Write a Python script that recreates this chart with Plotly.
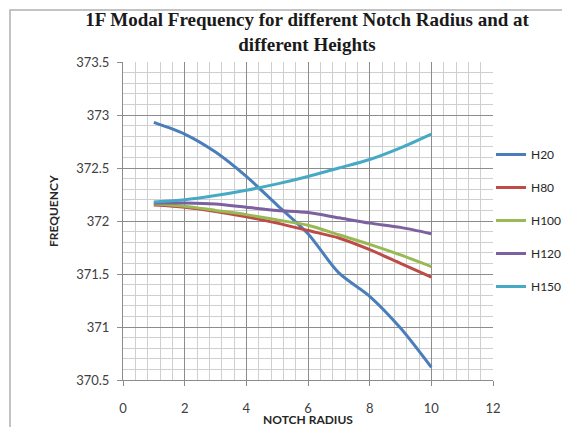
import plotly.graph_objects as go

# Data
notch_radius = [1, 2, 3, 4, 5, 6, 7, 8, 9, 10]
h20 = [372.93, 372.82, 372.65, 372.42, 372.15, 371.88, 371.51, 371.29, 370.99, 370.62]
h80 = [372.15, 372.13, 372.09, 372.04, 371.98, 371.91, 371.84, 371.73, 371.60, 371.47]
h100 = [372.16, 372.14, 372.10, 372.06, 372.01, 371.96, 371.87, 371.78, 371.68, 371.57]
h120 = [372.17, 372.17, 372.16, 372.13, 372.10, 372.08, 372.03, 371.98, 371.94, 371.88]
h150 = [372.18, 372.20, 372.24, 372.29, 372.35, 372.42, 372.50, 372.58, 372.69, 372.82]

series_names = ["H20", "H80", "H100", "H120", "H150"]
series_values = [h20, h80, h100, h120, h150]
series_colors = ["#4A7EBB", "#BE4B48", "#98B954", "#7D60A0", "#46AAC5"]

# The page body has an 8px margin, so the figure is drawn 8px in from the window corner.
OFF = 8
W, H = 570 - OFF, 427 - OFF
L, R, T, B = 115, 77, 54, 47
plot_w = W - L - R
plot_h = H - T - B


def px_to_paper_x(px):
    # px given in screenshot coordinates
    return (px - OFF - L) / plot_w


def px_to_paper_y(py):
    return (H - B - (py - OFF)) / plot_h


fig = go.Figure()
for name, vals, color in zip(series_names, series_values, series_colors):
    fig.add_trace(go.Scatter(
        x=notch_radius, y=vals, mode="lines", name=name, legendgroup=name,
        line=dict(color=color, width=3, shape="spline", smoothing=0.8),
    ))

tick_font = dict(family="Lato, Open Sans, sans-serif", size=13, color="#404040")

fig.update_layout(
    width=W, height=H,
    margin=dict(l=L, r=R, t=T, b=B, autoexpand=False),
    paper_bgcolor="white", plot_bgcolor="white",
    title=dict(
        text="<b>1F Modal Frequency for different Notch Radius and at<br>different Heights</b>",
        font=dict(family="Liberation Serif, Times New Roman, serif", size=19, color="#1a1a1a"),
        x=(307 - OFF) / W, xanchor="center", xref="container",
        y=1 - 18 / H, yanchor="top", yref="container",
    ),
    xaxis=dict(
        range=[0, 12], tick0=0, dtick=2,
        showgrid=True, gridcolor="#8c8c8c", gridwidth=1,
        minor=dict(dtick=0.4, tick0=0, showgrid=True, gridcolor="#cfcfcf", gridwidth=1),
        ticks="outside", ticklen=5, tickcolor="#8c8c8c",
        showline=True, linecolor="#8c8c8c", linewidth=1, mirror=False,
        zeroline=False, tickfont=tick_font, ticklabelstandoff=11,
    ),
    yaxis=dict(
        range=[370.5, 373.5], tick0=370.5, dtick=0.5,
        showgrid=True, gridcolor="#8c8c8c", gridwidth=1,
        minor=dict(dtick=0.1, showgrid=True, gridcolor="#cfcfcf", gridwidth=1),
        ticks="outside", ticklen=5, tickcolor="#8c8c8c",
        showline=True, linecolor="#8c8c8c", linewidth=1,
        zeroline=False, tickfont=tick_font, ticklabelstandoff=5,
    ),
    legend=dict(
        x=px_to_paper_x(491), xanchor="left",
        y=px_to_paper_y(140), yanchor="top",
        font=dict(family="Lato, Open Sans, sans-serif", size=12, color="#262626"),
        bgcolor="rgba(0,0,0,0)", tracegroupgap=14,
    ),
    showlegend=True,
)

# Axis titles
fig.add_annotation(
    text="<b>NOTCH RADIUS</b>", xref="paper", yref="paper",
    x=px_to_paper_x(308), y=px_to_paper_y(419), xanchor="center", yanchor="middle",
    showarrow=False, font=dict(family="Lato, Open Sans, sans-serif", size=12, color="#262626"),
)
fig.add_annotation(
    text="<b>FREQUENCY</b>", xref="paper", yref="paper", textangle=-90,
    x=px_to_paper_x(53), y=px_to_paper_y(211), xanchor="center", yanchor="middle",
    showarrow=False, font=dict(family="Lato, Open Sans, sans-serif", size=12, color="#262626"),
)

# Outer chart border
fig.add_shape(
    type="rect", xref="paper", yref="paper",
    x0=px_to_paper_x(10), y0=px_to_paper_y(440), x1=px_to_paper_x(590), y1=px_to_paper_y(10),
    line=dict(color="#b0b0b0", width=1.5), fillcolor="rgba(0,0,0,0)", layer="below",
)

fig.write_html("out.html")
